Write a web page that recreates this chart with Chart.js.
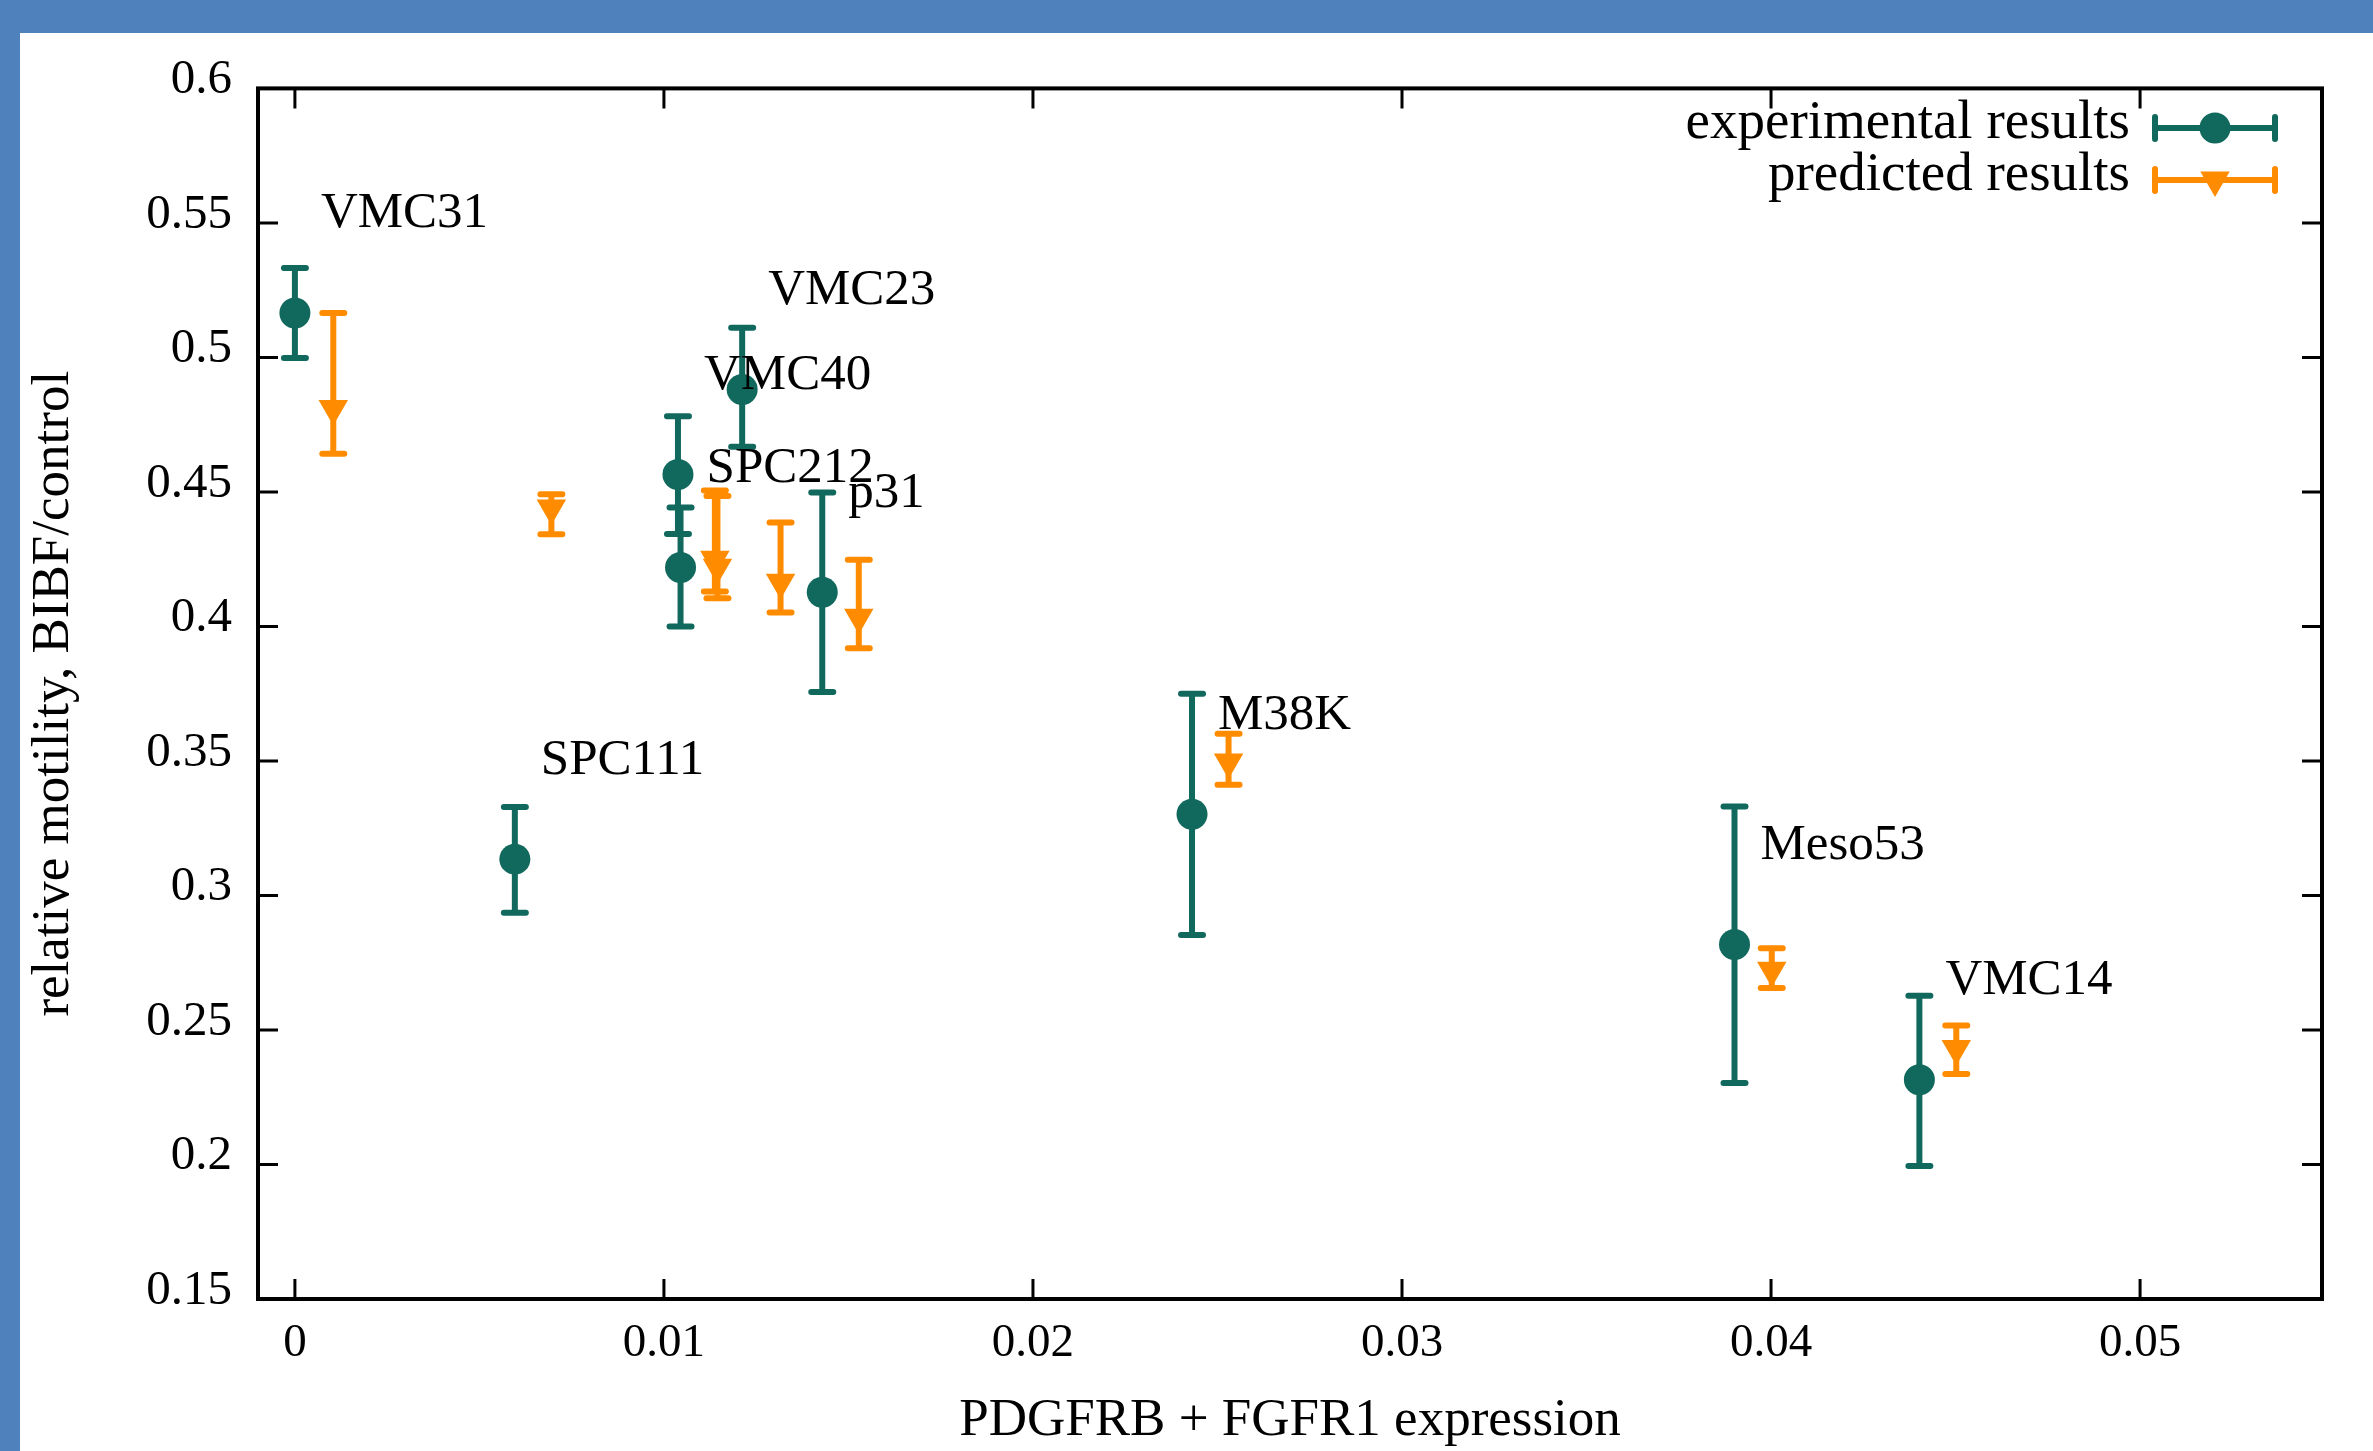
<!DOCTYPE html>
<html><head><meta charset="utf-8">
<script src="https://cdn.jsdelivr.net/npm/chart.js@4.4.1/dist/chart.umd.min.js"></script>
<style>
html,body{margin:0;padding:0;background:#4f81bd;width:2373px;height:1451px;overflow:hidden;}
#wrap{position:absolute;left:20px;top:33px;width:2353px;height:1418px;background:#fff;}
canvas{display:block;}
</style></head><body>
<div id="wrap"><canvas id="c" width="2353" height="1418"></canvas></div>
<script>
// ---- data ----
const cellLines = ['VMC31', 'SPC111', 'VMC40', 'SPC212', 'VMC23', 'p31', 'M38K', 'Meso53', 'VMC14'];
const expX    = [0.0, 0.00596, 0.01038, 0.01045, 0.01212, 0.01429, 0.02431, 0.03901, 0.04402];
const expY    = [0.5165, 0.3135, 0.4565, 0.4219, 0.4881, 0.4127, 0.3302, 0.2818, 0.2315];
const expLow  = [0.4998, 0.2936, 0.4344, 0.4000, 0.4668, 0.3756, 0.2853, 0.2303, 0.1994];
const expHigh = [0.5332, 0.3329, 0.4781, 0.4442, 0.5110, 0.4498, 0.3750, 0.3331, 0.2627];

const predX    = [0.00104, 0.00695, 0.01138, 0.01145, 0.01316, 0.01528, 0.0253, 0.04002, 0.04502];
const predY    = [0.481, 0.444, 0.425, 0.422, 0.4164, 0.4034, 0.3496, 0.2722, 0.2431];
const predLow  = [0.4642, 0.4343, 0.413, 0.4105, 0.4052, 0.3919, 0.3412, 0.2656, 0.2336];
const predHigh = [0.5165, 0.4491, 0.4505, 0.4485, 0.4386, 0.4248, 0.3601, 0.2804, 0.2517];

const xTicks = [0, 0.01, 0.02, 0.03, 0.04, 0.05];
const xTickLabels = ['0', '0.01', '0.02', '0.03', '0.04', '0.05'];
const yTicks = [0.15, 0.2, 0.25, 0.3, 0.35, 0.4, 0.45, 0.5, 0.55, 0.6];
const yTickLabels = ['0.15', '0.2', '0.25', '0.3', '0.35', '0.4', '0.45', '0.5', '0.55', '0.6'];
const xMin = -0.001, xMax = 0.05493, yMin = 0.15, yMax = 0.6;

const seriesNames = ['experimental results', 'predicted results'];
const xTitle = 'PDGFRB + FGFR1 expression';
const yTitle = 'relative motility, BIBF/control';

// ---- styles ----
const TEAL = '#11695d';
const ORANGE = '#ff8c00';
const FONT = "'Liberation Serif', 'DejaVu Serif', serif";

const toPts = (xs, ys) => xs.map((x, i) => ({x: x, y: ys[i]}));

const errorBarPlugin = {
  id: 'errorBars',
  beforeDatasetDraw(chart, args) {
    const ds = chart.data.datasets[args.index];
    const xs = chart.scales.x, ys = chart.scales.y;
    const ctx = chart.ctx;
    ctx.save();
    ctx.strokeStyle = ds.backgroundColor;
    ctx.lineWidth = 6;
    ctx.lineCap = 'round';
    ds.data.forEach((p, i) => {
      const px = xs.getPixelForValue(p.x);
      const lo = ys.getPixelForValue(ds.errLow[i]);
      const hi = ys.getPixelForValue(ds.errHigh[i]);
      ctx.beginPath();
      ctx.moveTo(px, lo); ctx.lineTo(px, hi);
      ctx.moveTo(px - 11, lo); ctx.lineTo(px + 11, lo);
      ctx.moveTo(px - 11, hi); ctx.lineTo(px + 11, hi);
      ctx.stroke();
    });
    ctx.restore();
  }
};

const framePlugin = {
  id: 'frame',
  afterDatasetsDraw(chart) {
    const {ctx, chartArea: a} = chart;
    const xs = chart.scales.x, ys = chart.scales.y;
    ctx.save();
    ctx.strokeStyle = '#000';
    ctx.lineWidth = 3;
    ctx.beginPath();
    const T = 20;
    xTicks.forEach(v => {
      const px = xs.getPixelForValue(v);
      ctx.moveTo(px, a.bottom); ctx.lineTo(px, a.bottom - T);
      ctx.moveTo(px, a.top); ctx.lineTo(px, a.top + T);
    });
    yTicks.forEach(v => {
      const py = ys.getPixelForValue(v);
      ctx.moveTo(a.left, py); ctx.lineTo(a.left + T, py);
      ctx.moveTo(a.right, py); ctx.lineTo(a.right - T, py);
    });
    ctx.stroke();
    ctx.lineWidth = 4;
    ctx.strokeRect(a.left, a.top, a.right - a.left, a.bottom - a.top);
    // point labels
    ctx.fillStyle = '#000';
    ctx.font = '51px ' + FONT;
    ctx.textAlign = 'left';
    ctx.textBaseline = 'middle';
    cellLines.forEach((name, i) => {
      const px = xs.getPixelForValue(expX[i]);
      const py = ys.getPixelForValue(expY[i]);
      ctx.fillText(name, px + 26, py - 99);
    });
    ctx.restore();
  }
};

const legendPlugin = {
  id: 'gnuLegend',
  afterDraw(chart) {
    const ctx = chart.ctx;
    ctx.save();
    chart.data.datasets.forEach((ds, i) => {
      const ly = 95 + i * 52;
      ctx.fillStyle = '#000';
      ctx.font = '55px ' + FONT;
      ctx.textAlign = 'right';
      ctx.textBaseline = 'middle';
      ctx.fillText(seriesNames[i], 2110, ly - 4);
      const x0 = 2135, x1 = 2255, xm = (x0 + x1) / 2;
      ctx.strokeStyle = ds.backgroundColor;
      ctx.lineWidth = 6;
      ctx.lineCap = 'round';
      ctx.beginPath();
      ctx.moveTo(x0, ly); ctx.lineTo(x1, ly);
      ctx.moveTo(x0, ly - 11); ctx.lineTo(x0, ly + 11);
      ctx.moveTo(x1, ly - 11); ctx.lineTo(x1, ly + 11);
      ctx.stroke();
      ctx.fillStyle = ds.backgroundColor;
      Chart.helpers.drawPoint(ctx, {pointStyle: ds.pointStyle, radius: ds.pointRadius, rotation: ds.rotation || 0, borderWidth: 0}, xm, ly);
    });
    ctx.restore();
  }
};

new Chart(document.getElementById('c'), {
  type: 'scatter',
  data: {
    datasets: [
      {
        label: seriesNames[0],
        data: toPts(expX, expY),
        errLow: expLow, errHigh: expHigh,
        backgroundColor: TEAL, borderColor: TEAL, borderWidth: 0,
        pointStyle: 'circle', pointRadius: 15.5, order: 1
      },
      {
        label: seriesNames[1],
        data: toPts(predX, predY),
        errLow: predLow, errHigh: predHigh,
        backgroundColor: ORANGE, borderColor: ORANGE, borderWidth: 0,
        pointStyle: 'triangle', rotation: 180, pointRadius: 17, order: 0
      }
    ]
  },
  options: {
    responsive: false, animation: false, devicePixelRatio: 1,
    layout: {padding: {left: 0, top: 52, right: 51, bottom: 0}},
    plugins: {legend: {display: false}, tooltip: {enabled: false}},
    elements: {point: {hoverRadius: 15.5}},
    scales: {
      x: {
        type: 'linear', position: 'bottom', min: xMin, max: xMax,
        afterBuildTicks: s => { s.ticks = xTicks.map(v => ({value: v})); },
        afterFit: s => { s.height = 152; },
        grid: {display: false, drawTicks: false}, border: {display: false},
        ticks: {color: '#000', font: {family: FONT, size: 47}, padding: 16, maxRotation: 0,
                callback: v => xTickLabels[xTicks.indexOf(v)]},
        title: {display: true, text: xTitle, color: '#000', font: {family: FONT, size: 53}, padding: {top: 0, bottom: -2}}
      },
      y: {
        type: 'linear', position: 'left', min: yMin, max: yMax,
        afterBuildTicks: s => { s.ticks = yTicks.map(v => ({value: v})); },
        afterFit: s => { s.width = 238; },
        grid: {display: false, drawTicks: false}, border: {display: false},
        ticks: {color: '#000', font: {family: FONT, size: 49}, padding: 26, labelOffset: -8,
                callback: v => yTickLabels[yTicks.indexOf(v)]},
        title: {display: true, text: yTitle, color: '#000', font: {family: FONT, size: 53}, padding: {top: 2, bottom: 0}}
      }
    }
  },
  plugins: [errorBarPlugin, framePlugin, legendPlugin]
});
</script>
</body></html>
